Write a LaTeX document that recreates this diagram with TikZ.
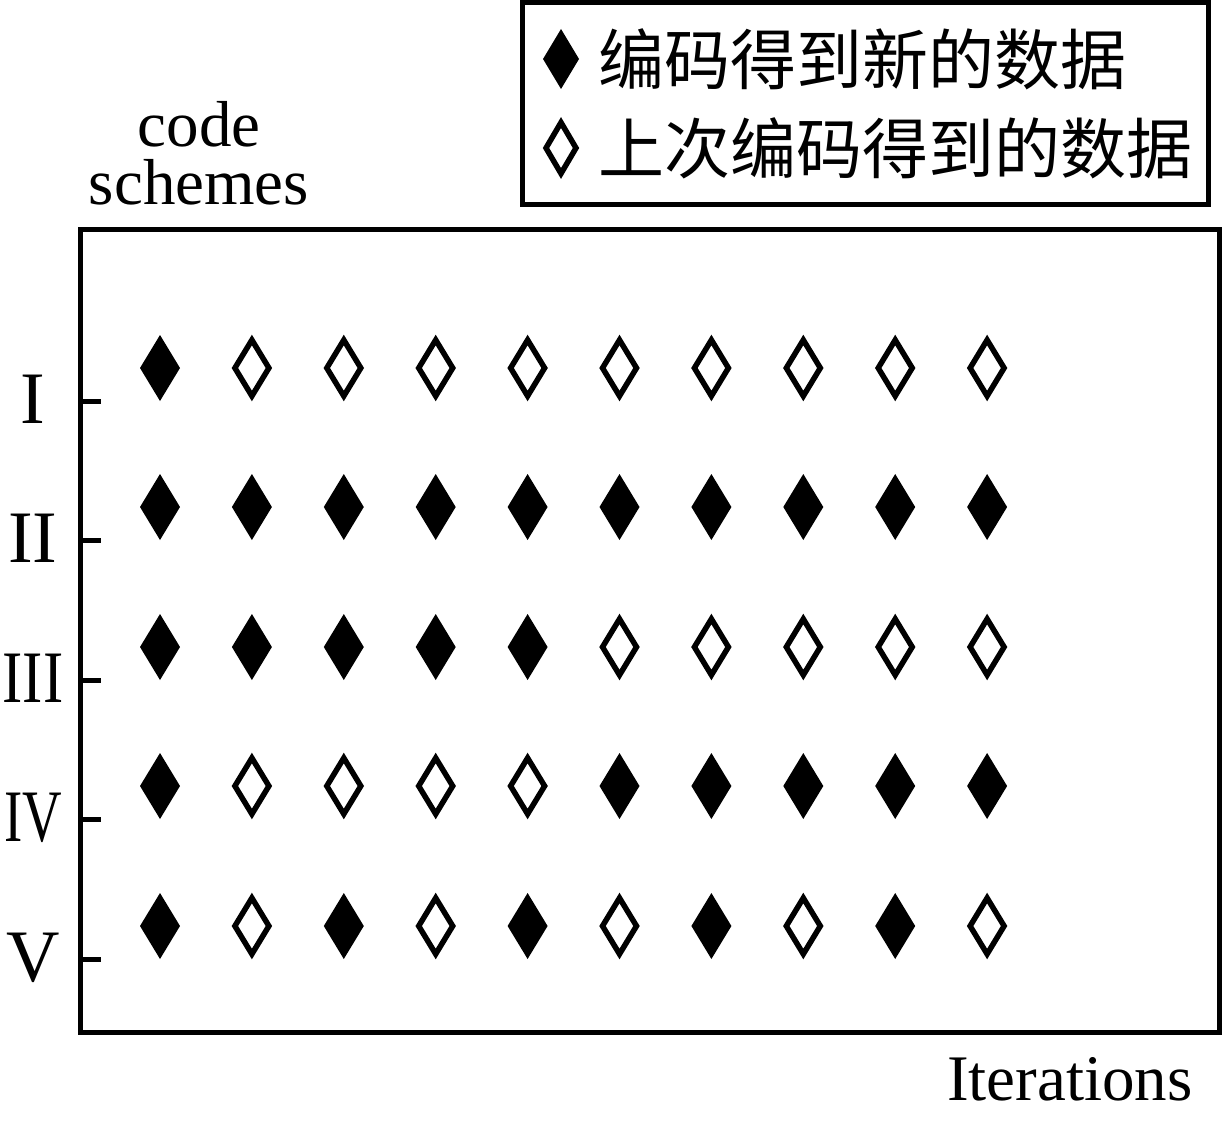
\documentclass[tikz,border=0pt]{standalone}
\usepackage{graphicx}
\usepackage{fontspec}
\setmainfont{Liberation Serif}
\newfontfamily\cjk{Noto Sans CJK SC}
\usetikzlibrary{shapes.geometric}
\tikzset{
  dmd1/.style={shape=diamond, fill=black, draw=none, inner sep=0pt, outer sep=0pt, minimum width=40pt, minimum height=66pt},
  dmd0/.style={shape=diamond, fill=white, draw=black, line width=5.5pt, line join=miter, inner sep=0pt, outer sep=0pt, minimum width=34pt, minimum height=56pt},
  frameline/.style={line width=5pt},
  ticklbl/.style={anchor=base, inner sep=0pt, font=\fontsize{74}{74}\selectfont},
  lbl/.style={inner sep=0pt, font=\fontsize{65}{58}\selectfont},
  legtxt/.style={anchor=west, inner sep=0pt, font=\cjk\fontsize{66}{66}\selectfont},
}
\begin{document}
\begin{tikzpicture}[x=1pt, y=-1pt]
\useasboundingbox (0,0) rectangle (1222,1124);
% legend
\draw[line width=5pt] (522,3) rectangle (1208,204);
\node[dmd1, minimum width=36pt, minimum height=60pt] (leg1) at (561,59) {};
\node[legtxt] (legt1) at (598,59) {编码得到新的数据};
\node[dmd0, minimum width=30pt, minimum height=51pt] (leg0) at (561,148) {};
\node[legtxt] (legt0) at (598,148) {上次编码得到的数据};
% y label
\node[lbl, anchor=base, align=center] (ylab) at (199,204) {code\\schemes};
% main frame
\draw[frameline] (80,229) rectangle (1219,1032);
% ticks and labels
\foreach \t/\lab [count=\k] in {401/I,540/II,680/\scalebox{0.82}[1]{III},819/\scalebox{0.74}[1]{IV},959/V}{
  \draw[frameline] (80,\t) -- (101,\t);
  \node[ticklbl] (lab\k) at (33,\t+22) {\lab};
}
% diamonds
\foreach \yy/\pat [count=\r] in {368/{1,0,0,0,0,0,0,0,0,0},
                                 507/{1,1,1,1,1,1,1,1,1,1},
                                 647/{1,1,1,1,1,0,0,0,0,0},
                                 786/{1,0,0,0,0,1,1,1,1,1},
                                 926/{1,0,1,0,1,0,1,0,1,0}}{
  \foreach \v [count=\c] in \pat {
    \node[dmd\v] (d-\r-\c) at ({160+91.9*(\c-1)},\yy) {};
  }
}
% x label
\node[lbl, anchor=base west] (iter) at (947,1100) {Iterations};
\end{tikzpicture}
\end{document}
